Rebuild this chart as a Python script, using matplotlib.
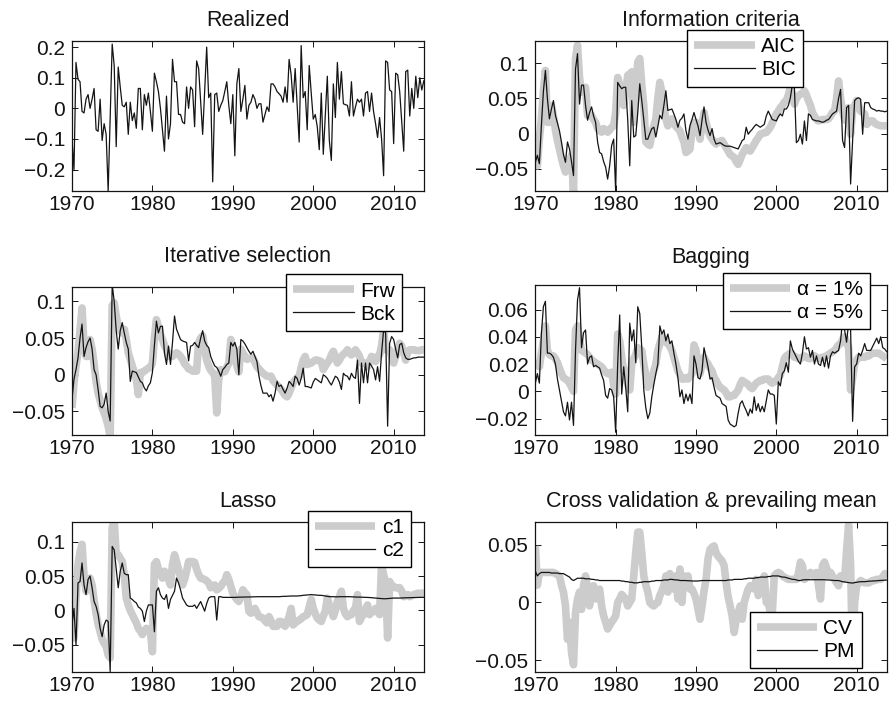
import numpy as np
import matplotlib

matplotlib.use("Agg")
import matplotlib.pyplot as plt

plt.rcParams["font.family"] = ["Liberation Sans", "DejaVu Sans"]

GRAY = "#cccccc"
INK = "#141414"

# quarterly forecasts / realized values, 1970Q1 .. 2013Q4
realized = [
    -0.1, -0.2, 0.15, 0.095, 0.087, -0.01, -0.015, 0.03,
    0.045, 0.0, 0.03, 0.065, -0.07, -0.075, 0.03, -0.105,
    -0.05, -0.085, -0.27, -0.03, 0.21, 0.14, -0.125, 0.135,
    0.07, 0.01, 0.005, 0.02, -0.085, 0.02, -0.04, -0.015,
    -0.065, 0.065, 0.065, -0.07, 0.045, 0.01, 0.05, -0.01,
    -0.075, 0.115, 0.087, 0.055, 0.0, -0.07, -0.14, 0.04,
    -0.1, -0.05, 0.16, 0.087, 0.087, -0.02, -0.02, -0.045,
    -0.05, 0.07, 0.0, 0.07, 0.06, -0.06, 0.155, 0.13,
    0.02, -0.085, 0.06, 0.2, 0.035, 0.05, -0.24, 0.045,
    0.05, -0.01, 0.01, 0.025, 0.055, 0.087, 0.01, -0.05,
    0.045, -0.155, 0.08, 0.13, -0.01, 0.03, 0.075, -0.035,
    0.01, 0.02, 0.045, 0.03, 0.0, 0.015, 0.015, -0.045,
    -0.02, 0.005, -0.01, 0.08, 0.08, 0.07, 0.055, 0.048,
    0.04, 0.02, 0.07, 0.02, 0.16, 0.11, 0.02, 0.13,
    0.01, -0.11, 0.205, 0.035, 0.055, -0.07, 0.14, 0.05,
    -0.035, -0.02, -0.06, -0.135, 0.05, -0.15, -0.02, 0.105,
    -0.105, -0.17, 0.08, -0.03, 0.15, 0.03, 0.12, 0.015,
    0.012, 0.01, -0.025, 0.087, -0.025, 0.005, 0.03, 0.02,
    0.03, -0.025, 0.05, 0.055, -0.01, 0.05, -0.01, -0.05,
    -0.095, -0.03, -0.1, -0.22, 0.155, 0.15, 0.06, 0.055,
    -0.115, 0.115, 0.11, 0.055, -0.04, -0.14, 0.12, 0.125,
    -0.025, 0.065, 0.0, 0.105, 0.035, 0.1, 0.06, 0.09,
]

aic = [
    -0.027, -0.046, -0.008, 0.021, 0.06, 0.09, 0.016, 0.016,
    0.04, 0.025, 0.005, -0.01, -0.022, -0.035, -0.046, -0.055,
    -0.05, -0.04, -0.031, -0.084, 0.107, 0.126, 0.08, 0.059,
    0.062, 0.066, 0.026, 0.026, 0.026, 0.02, 0.016, 0.007,
    0.004, 0.002, 0.007, 0.005, 0.002, 0.005, 0.009, 0.011,
    0.03, 0.08, 0.07, 0.055, 0.04, 0.06, 0.083, 0.085,
    0.088, 0.016, 0.06, 0.102, 0.107, 0.07, 0.04, -0.012,
    -0.015, -0.017, 0.0, 0.011, 0.021, 0.05, 0.073, 0.059,
    0.04, 0.021, 0.011, 0.015, 0.021, 0.015, 0.01, 0.007,
    0.004, -0.005, -0.012, -0.027, -0.025, -0.022, 0.005, 0.016,
    0.016, 0.005, -0.008, 0.012, 0.03, 0.016, 0.005, -0.003,
    -0.008, -0.012, -0.015, -0.012, -0.011, -0.01, -0.015, -0.02,
    -0.025, -0.03, -0.032, -0.034, -0.04, -0.044, -0.037, -0.03,
    -0.025, -0.02, -0.023, -0.025, -0.02, -0.015, -0.01, -0.006,
    -0.001, 0.0, 0.001, 0.0015, 0.005, 0.009, 0.015, 0.022,
    0.028, 0.032, 0.037, 0.04, 0.045, 0.047, 0.055, 0.066,
    0.055, 0.042, 0.05, 0.054, 0.056, 0.058, 0.061, 0.055,
    0.047, 0.04, 0.03, 0.025, 0.02, 0.018, 0.019, 0.02,
    0.02, 0.02, 0.021, 0.025, 0.03, 0.032, 0.05, 0.075,
    0.05, 0.032, 0.02, 0.018, 0.037, -0.001, 0.032, 0.04,
    0.047, 0.04, 0.032, 0.03, 0.028, 0.013, 0.016, 0.018,
    0.018, 0.015, 0.013, 0.012, 0.011, 0.011, 0.011, 0.011,
]

bic = [
    -0.041, -0.031, -0.043, 0.011, 0.06, 0.09, 0.05, 0.021,
    0.035, 0.047, 0.026, 0.015, 0.004, -0.012, -0.03, -0.041,
    -0.012, -0.022, -0.04, -0.06, 0.092, 0.114, 0.042, 0.069,
    0.069, 0.04, 0.019, 0.03, 0.038, 0.025, 0.016, -0.012,
    -0.027, -0.029, -0.04, -0.048, -0.065, -0.046, -0.017, -0.008,
    -0.083, 0.073, 0.068, 0.064, 0.066, 0.066, 0.02, -0.046,
    0.047, -0.005, -0.003, 0.03, 0.071, 0.047, 0.02, -0.008,
    -0.008, 0.0, 0.007, 0.009, -0.005, 0.01, 0.026, 0.021,
    0.04, 0.061, 0.033, 0.034, 0.035, 0.028, 0.02, 0.009,
    0.019, 0.022, 0.028, 0.004, -0.008, 0.011, 0.02, 0.03,
    0.02, 0.011, -0.003, 0.019, 0.038, 0.016, 0.005, -0.003,
    0.007, -0.008, -0.015, -0.014, -0.013, -0.015, -0.017, -0.018,
    -0.018, -0.018, -0.019, -0.02, -0.021, -0.022, -0.016, -0.01,
    -0.008, 0.009, -0.001, 0.003, 0.006, 0.01, 0.013, 0.011,
    0.009, 0.011, 0.013, 0.025, 0.032, 0.026, 0.02, 0.019,
    0.018, 0.024, 0.028, 0.025, 0.035, 0.035, 0.04, 0.051,
    0.07, 0.066, -0.013, -0.01, -0.001, -0.015, 0.018, -0.01,
    0.028, 0.026, 0.02, 0.019, 0.018, 0.018, 0.017, 0.016,
    0.017, 0.019, 0.02, 0.024, 0.028, 0.03, 0.032, 0.05,
    0.063, -0.01, -0.02, 0.037, 0.04, -0.072, -0.01, 0.047,
    0.05, 0.051, 0.049, -0.001, 0.044, 0.044, 0.044, 0.037,
    0.035, 0.034, 0.032, 0.033, 0.032, 0.032, 0.031, 0.032,
]

frw = [
    -0.045, -0.011, 0.012, 0.03, 0.06, 0.091, 0.04, 0.025,
    0.025, 0.048, 0.035, 0.015, -0.01, -0.025, -0.035, -0.045,
    -0.052, -0.06, -0.07, -0.084, 0.094, 0.098, 0.08, 0.066,
    0.06, 0.057, 0.062, 0.048, 0.03, 0.021, 0.012, 0.003,
    -0.006, -0.027, 0.003, 0.003, 0.005, 0.007, 0.009, 0.01,
    0.016, 0.05, 0.075, 0.066, 0.055, 0.048, 0.04, 0.035,
    0.025, 0.025, 0.025, 0.028, 0.03, 0.028, 0.025, 0.021,
    0.015, 0.012, 0.008, 0.007, 0.005, 0.005, 0.005, 0.044,
    0.05, 0.053, 0.035, 0.02, 0.012, 0.006, 0.003, -0.002,
    -0.052, -0.006, 0.007, 0.005, 0.004, 0.01, 0.016, 0.048,
    0.035, 0.03, 0.012, 0.004, 0.035, 0.03, 0.025, 0.021,
    0.022, 0.023, 0.023, 0.017, 0.011, 0.008, 0.005, 0.002,
    0.0, -0.002, -0.002, -0.002, -0.008, -0.011, -0.014, -0.017,
    -0.02, -0.024, -0.028, -0.03, -0.025, -0.018, -0.011, -0.007,
    -0.004, -0.002, 0.01, 0.02, 0.025, 0.014, 0.015, 0.016,
    0.018, 0.02, 0.02, 0.019, 0.018, 0.007, 0.012, 0.016,
    0.02, 0.027, 0.032, 0.025, 0.016, 0.02, 0.025, 0.028,
    0.03, 0.034, 0.03, 0.027, 0.03, 0.034, 0.03, 0.025,
    0.016, 0.016, 0.016, 0.011, 0.018, 0.025, 0.02, 0.018,
    0.025, 0.027, 0.04, 0.061, 0.034, 0.034, 0.034, 0.025,
    0.016, 0.025, 0.034, 0.043, 0.039, 0.03, 0.02, 0.032,
    0.034, 0.034, 0.034, 0.033, 0.033, 0.033, 0.034, 0.034,
]

bck = [
    -0.034, -0.006, 0.007, 0.023, 0.05, 0.069, 0.025, 0.037,
    0.045, 0.05, 0.035, 0.007, 0.0, -0.02, -0.043, -0.045,
    -0.04, -0.025, -0.05, -0.063, 0.123, 0.1, 0.06, 0.035,
    0.06, 0.071, 0.057, 0.044, 0.035, -0.009, 0.005, 0.004,
    0.003, -0.003, -0.009, -0.011, -0.018, -0.022, -0.015, -0.011,
    0.003, 0.04, 0.073, 0.057, 0.066, 0.066, 0.03, 0.014,
    0.039, 0.014, 0.044, 0.08, 0.062, 0.055, 0.048, 0.046,
    0.045, 0.044, 0.019, 0.039, 0.04, 0.044, 0.04, 0.037,
    0.05, 0.06, 0.046, 0.04, 0.037, 0.025, 0.018, 0.012,
    0.01, 0.005, -0.002, 0.007, 0.01, 0.014, 0.016, 0.044,
    0.039, 0.044, 0.035, 0.0, 0.048, 0.046, 0.042, 0.037,
    0.032, 0.028, 0.032, 0.025, 0.018, -0.002, -0.015, -0.025,
    -0.025, -0.025, -0.03, -0.027, -0.036, -0.025, -0.009, -0.016,
    -0.014, -0.02, -0.025, -0.018, -0.009, -0.012, -0.016, -0.002,
    -0.005, -0.014, -0.005, 0.009, -0.016, -0.016, -0.017, -0.018,
    -0.01, -0.005, -0.007, -0.009, -0.011, 0.0, -0.002, -0.005,
    -0.01, -0.014, -0.008, -0.002, -0.004, -0.01, -0.02, 0.002,
    -0.001, -0.002, -0.007, 0.002, -0.003, -0.005, 0.02, -0.039,
    0.016, -0.011, 0.016, -0.011, 0.016, 0.012, 0.007, -0.007,
    0.011, -0.009, 0.03, 0.061, 0.057, -0.07, 0.043, 0.052,
    0.048, 0.035, 0.023, 0.041, 0.043, 0.03, 0.023, 0.021,
    0.021, 0.022, 0.023, 0.023, 0.024, 0.024, 0.024, 0.024,
]

alpha1 = [
    0.02, 0.02, 0.018, 0.028, 0.037, 0.048, 0.03, 0.027,
    0.026, 0.026, 0.024, 0.021, 0.017, 0.013, 0.01, 0.009,
    0.008, 0.006, 0.003, 0.0, 0.045, 0.048, 0.038, 0.03,
    0.029, 0.028, 0.027, 0.025, 0.023, 0.022, 0.021, 0.02,
    0.019, 0.018, 0.016, 0.014, 0.013, 0.013, 0.014, 0.005,
    -0.002, 0.042, 0.037, 0.025, 0.015, 0.015, 0.005, 0.001,
    0.02, 0.024, 0.027, 0.032, 0.031, 0.03, 0.02, 0.012,
    0.003, 0.005, 0.01, 0.015, 0.02, 0.03, 0.035, 0.04,
    0.038, 0.036, 0.035, 0.033, 0.03, 0.025, 0.02, 0.015,
    0.012, 0.009, 0.009, 0.01, 0.009, 0.011, 0.013, 0.034,
    0.03, 0.02, 0.013, 0.02, 0.025, 0.022, 0.02, 0.017,
    0.015, 0.01, 0.008, 0.005, 0.003, 0.002, 0.001, -0.001,
    -0.004, -0.004, -0.003, -0.003, -0.001, 0.001, 0.005, 0.008,
    0.007, 0.006, 0.005, 0.003, 0.002, 0.004, 0.006, 0.007,
    0.008, 0.008, 0.009, 0.009, 0.009, 0.007, 0.006, 0.007,
    0.008, 0.01, 0.012, 0.018, 0.024, 0.026, 0.027, 0.028,
    0.027, 0.025, 0.025, 0.024, 0.024, 0.025, 0.026, 0.025,
    0.024, 0.024, 0.025, 0.026, 0.025, 0.024, 0.024, 0.025,
    0.025, 0.026, 0.027, 0.028, 0.029, 0.03, 0.032, 0.034,
    0.035, 0.038, 0.04, 0.036, 0.032, 0.001, 0.01, 0.02,
    0.023, 0.025, 0.025, 0.025, 0.025, 0.026, 0.026, 0.027,
    0.028, 0.028, 0.028, 0.028, 0.027, 0.026, 0.025, 0.024,
]

alpha5 = [
    0.006, 0.013, 0.006, 0.042, 0.062, 0.066, 0.028, 0.028,
    0.027, 0.025, 0.02, 0.009, 0.001, -0.007, -0.015, -0.018,
    -0.008, -0.021, -0.008, -0.025, 0.03, 0.067, 0.076, 0.032,
    0.043, 0.045, 0.02, 0.025, 0.026, 0.018, 0.019, 0.018,
    0.017, 0.012, 0.008, -0.003, -0.005, 0.002, 0.001, -0.004,
    -0.03, 0.02, 0.056, -0.002, 0.018, 0.003, -0.015, 0.05,
    0.037, 0.045, 0.021, 0.062, 0.057, 0.032, 0.001, -0.012,
    -0.02, -0.016, -0.004, 0.005, 0.013, 0.02, 0.048, 0.042,
    0.045, 0.037, 0.042, 0.035, 0.037, 0.028, 0.02, 0.01,
    -0.004, 0.001, -0.009, -0.002, -0.007, -0.002, -0.009, 0.026,
    0.02, 0.01, 0.009, 0.015, 0.032, 0.025, 0.018, 0.009,
    0.01, 0.003, -0.003, -0.004, -0.005, -0.009, -0.01, -0.011,
    -0.021, -0.024, -0.025, -0.026, -0.025, -0.016, -0.009, -0.007,
    -0.011, -0.014, -0.018, -0.013, -0.016, -0.004, -0.014, -0.009,
    -0.015, -0.011, -0.015, -0.007, 0.001, -0.002, -0.002, -0.003,
    -0.024, 0.007, 0.004, 0.013, 0.015, 0.021, 0.014, 0.037,
    0.031, 0.028, 0.025, 0.022, 0.02, 0.028, 0.04, 0.031,
    0.032, 0.025, 0.03, 0.02, 0.026, 0.02, 0.019, 0.025,
    0.018, 0.026, 0.017, 0.026, 0.029, 0.028, 0.029, 0.03,
    0.037, 0.052, 0.045, 0.036, 0.05, 0.045, -0.022, 0.018,
    0.02, 0.028, 0.026, 0.03, 0.035, 0.03, 0.03, 0.03,
    0.033, 0.036, 0.039, 0.035, 0.04, 0.032, 0.031, 0.029,
]

c1 = [
    -0.021, -0.04, 0.018, 0.066, 0.085, 0.096, 0.05, 0.028,
    0.04, 0.047, 0.037, 0.015, -0.005, -0.02, -0.031, -0.042,
    -0.048, -0.052, -0.065, -0.069, 0.12, 0.13, 0.081, 0.081,
    0.076, 0.071, 0.052, 0.018, 0.008, 0.0, -0.006, -0.012,
    -0.018, -0.026, -0.03, -0.035, -0.03, -0.026, -0.028, -0.031,
    -0.06, 0.067, 0.071, 0.06, 0.052, 0.047, 0.057, 0.052,
    0.045, 0.037, 0.067, 0.081, 0.071, 0.06, 0.047, 0.037,
    0.045, 0.057, 0.071, 0.071, 0.071, 0.07, 0.06, 0.052,
    0.047, 0.046, 0.045, 0.043, 0.04, 0.033, 0.035, 0.037,
    0.03, 0.032, 0.035, 0.04, 0.042, 0.052, 0.045, 0.035,
    0.025, 0.02, 0.016, 0.013, 0.02, 0.03, 0.026, 0.023,
    -0.001, -0.004, -0.002, 0.003, -0.003, -0.009, -0.01, -0.011,
    -0.015, -0.018, -0.009, -0.015, -0.023, -0.023, -0.023, -0.016,
    -0.016, -0.02, -0.023, -0.016, -0.009, 0.003, -0.021, -0.018,
    -0.016, -0.014, -0.012, -0.009, -0.008, -0.006, 0.005, 0.016,
    0.003, -0.005, -0.011, -0.014, -0.016, -0.008, -0.001, 0.018,
    0.008, 0.0, -0.009, 0.0, 0.013, 0.02, 0.028, 0.003,
    -0.005, -0.009, -0.007, -0.006, 0.0, 0.003, 0.023, -0.016,
    -0.01, -0.006, 0.002, 0.008, -0.006, -0.003, -0.001, 0.003,
    -0.002, -0.006, 0.067, 0.052, 0.04, -0.04, 0.042, 0.037,
    0.035, 0.033, 0.033, 0.033, 0.028, 0.02, 0.022, 0.023,
    0.02, 0.022, 0.023, 0.024, 0.025, 0.025, 0.025, 0.025,
]

c2 = [
    -0.021, 0.003, -0.05, 0.04, 0.042, 0.069, 0.037, 0.023,
    0.045, 0.05, 0.033, 0.013, 0.006, -0.006, -0.026, -0.038,
    -0.021, -0.014, -0.016, -0.089, 0.093, 0.088, 0.06, 0.033,
    0.057, 0.069, 0.054, 0.052, 0.052, 0.018, 0.016, 0.013,
    0.011, 0.005, 0.003, -0.001, -0.016, -0.001, 0.008, 0.008,
    0.008, -0.031, 0.028, 0.033, 0.023, 0.018, 0.016, 0.023,
    0.003, 0.016, 0.022, 0.028, 0.047, 0.04, 0.03, 0.018,
    0.013, 0.008, 0.006, 0.006, 0.006, 0.008, 0.003, 0.008,
    0.013, 0.006, -0.001, 0.01, 0.018, 0.02, 0.02, 0.02,
    -0.014, 0.02, 0.02, 0.019, 0.019, 0.019, 0.019, 0.019,
    0.019, 0.019, 0.0192, 0.0193, 0.0194, 0.0195, 0.0195, 0.0195,
    0.0196, 0.0197, 0.0198, 0.02, 0.02, 0.02, 0.02, 0.02,
    0.02, 0.02, 0.02, 0.02, 0.02, 0.02, 0.02, 0.02,
    0.0203, 0.0205, 0.0205, 0.0207, 0.021, 0.021, 0.021, 0.021,
    0.021, 0.0212, 0.0215, 0.022, 0.0222, 0.0225, 0.0228, 0.023,
    0.0228, 0.0225, 0.0222, 0.022, 0.022, 0.0215, 0.021, 0.0205,
    0.02, 0.02, 0.02, 0.0198, 0.0198, 0.02, 0.02, 0.02,
    0.02, 0.02, 0.02, 0.0198, 0.0196, 0.0195, 0.0195, 0.0194,
    0.0193, 0.0192, 0.019, 0.019, 0.0188, 0.0185, 0.0182, 0.018,
    0.0178, 0.0175, 0.0172, 0.017, 0.017, 0.0172, 0.0175, 0.0178,
    0.018, 0.018, 0.018, 0.018, 0.0182, 0.0183, 0.0184, 0.0185,
    0.0186, 0.0187, 0.0188, 0.0188, 0.0189, 0.019, 0.019, 0.019,
]

cv = [
    0.049, 0.015, 0.026, 0.026, 0.026, 0.026, 0.026, 0.026,
    0.026, 0.026, 0.025, 0.024, 0.023, 0.015, 0.009, -0.003,
    -0.032, -0.017, -0.043, -0.054, -0.009, 0.003, 0.009, -0.006,
    0.0145, 0.023, 0.013, -0.003, 0.0116, 0.0145, 0.003, 0.008,
    0.0116, -0.003, -0.0116, -0.017, -0.023, -0.02, -0.017, -0.0145,
    -0.0116, 0.0, 0.003, 0.007, 0.005, 0.003, -0.003, 0.0,
    0.003, 0.023, 0.043, 0.061, 0.061, 0.043, 0.023, 0.015,
    0.009, 0.0, -0.002, -0.003, -0.001, 0.0, 0.006, 0.01,
    0.0145, 0.023, 0.009, 0.025, 0.018, 0.0116, 0.023, 0.003,
    0.029, 0.0, 0.023, 0.0145, 0.023, 0.0116, 0.0116, 0.008,
    0.003, -0.006, -0.0145, -0.003, 0.01, 0.02, 0.038, 0.046,
    0.048, 0.049, 0.043, 0.04, 0.038, 0.036, 0.032, 0.017,
    0.005, -0.003, -0.0116, -0.026, -0.015, -0.009, -0.003, -0.0145,
    0.0, 0.006, 0.0116, 0.0145, 0.013, 0.0116, 0.02, 0.006,
    0.01, 0.015, 0.023, 0.0, 0.0, -0.009, -0.009, 0.023,
    0.025, 0.026, 0.025, 0.023, 0.022, 0.021, 0.02, 0.02,
    0.02, 0.02, 0.02, 0.025, 0.035, 0.032, 0.02, 0.022,
    0.024, 0.026, 0.024, 0.023, 0.026, 0.015, 0.003, 0.032,
    0.035, 0.03, 0.023, 0.026, 0.023, 0.02, 0.017, 0.0145,
    0.023, 0.021, 0.02, 0.045, 0.067, 0.032, -0.055, 0.0,
    0.0145, 0.017, 0.019, 0.018, 0.017, 0.017, 0.017, 0.018,
    0.019, 0.019, 0.02, 0.02, 0.02, 0.022, 0.025, 0.023,
]

pm = [
    0.027, 0.023, 0.025, 0.026, 0.026, 0.026, 0.026, 0.026,
    0.0255, 0.0255, 0.0255, 0.0255, 0.025, 0.025, 0.025, 0.024,
    0.023, 0.022, 0.02, 0.019, 0.02, 0.021, 0.021, 0.021,
    0.021, 0.0205, 0.0205, 0.0205, 0.02, 0.02, 0.0195, 0.0195,
    0.019, 0.019, 0.019, 0.019, 0.019, 0.019, 0.019, 0.019,
    0.019, 0.019, 0.019, 0.0185, 0.0185, 0.018, 0.018, 0.0175,
    0.0175, 0.017, 0.017, 0.017, 0.0175, 0.0175, 0.018, 0.018,
    0.018, 0.018, 0.0185, 0.0185, 0.019, 0.019, 0.019, 0.019,
    0.0195, 0.0195, 0.0195, 0.02, 0.02, 0.0197, 0.0195, 0.0195,
    0.019, 0.019, 0.019, 0.019, 0.0188, 0.0188, 0.0186, 0.0186,
    0.0186, 0.0186, 0.0188, 0.019, 0.019, 0.019, 0.019, 0.019,
    0.019, 0.019, 0.019, 0.019, 0.019, 0.019, 0.019, 0.019,
    0.0195, 0.0195, 0.0195, 0.02, 0.02, 0.02, 0.02, 0.02,
    0.0205, 0.0205, 0.021, 0.021, 0.021, 0.021, 0.0215, 0.0215,
    0.022, 0.022, 0.022, 0.022, 0.0225, 0.0225, 0.023, 0.023,
    0.023, 0.023, 0.0225, 0.022, 0.022, 0.0215, 0.021, 0.0205,
    0.02, 0.02, 0.0195, 0.019, 0.019, 0.0195, 0.0197, 0.0197,
    0.0197, 0.0197, 0.0197, 0.0197, 0.0197, 0.0197, 0.0197, 0.0197,
    0.0197, 0.0195, 0.0195, 0.0193, 0.0192, 0.019, 0.019, 0.019,
    0.0185, 0.018, 0.0178, 0.0175, 0.0172, 0.017, 0.0168, 0.0172,
    0.0175, 0.0178, 0.018, 0.018, 0.018, 0.0182, 0.0184, 0.0185,
    0.0186, 0.0187, 0.0188, 0.019, 0.0191, 0.0192, 0.0193, 0.0194,
]

year_ticks = [1970, 1980, 1990, 2000, 2010]

fig = plt.figure(figsize=(8.93, 7.01), dpi=100)
fig.patch.set_facecolor("white")


def quarters(v):
    return 1970 + np.arange(len(v)) / 4


def panel(rect, title, ylim, yticks, tpad):
    ax = fig.add_axes(rect)
    ax.set_xlim(1970, 2013.75)
    ax.set_ylim(*ylim)
    ax.set_xticks(year_ticks)
    ax.set_yticks(yticks)
    ax.set_yticklabels([f"{t:g}".replace("-", "\u2212") for t in yticks])
    ax.tick_params(direction="in", top=True, right=True, length=4,
                   width=0.7, labelsize=15, colors=INK)
    ax.tick_params(axis="x", pad=3)
    ax.tick_params(axis="y", pad=5)
    for s in ax.spines.values():
        s.set_linewidth(0.9)
        s.set_color(INK)
    ax.set_title(title, fontsize=15.5, pad=tpad, color=INK)
    return ax


def pair(ax, gray, black, labels, anchor, loc="upper right"):
    ax.plot(quarters(gray), gray, color=GRAY, lw=5.5, solid_joinstyle="round",
            solid_capstyle="butt", label=labels[0], zorder=2)
    ax.plot(quarters(black), black, color=INK, lw=0.9, label=labels[1], zorder=3)
    leg = ax.legend(loc=loc, bbox_to_anchor=anchor, bbox_transform=fig.transFigure,
                    fontsize=15, fancybox=False, edgecolor="black", framealpha=1,
                    borderpad=0.35, labelspacing=0.2, handlelength=2.9,
                    handletextpad=0.3, borderaxespad=0)
    leg.get_frame().set_linewidth(1.0)
    leg.set_zorder(5)


L, R = 0.0806, 0.5995
WL, WR = 0.394, 0.3935

ax1 = panel([L, 0.7275, WL, 0.214], "Realized", (-0.27, 0.22),
            [-0.2, -0.1, 0, 0.1, 0.2], 10.5)
ax1.plot(quarters(realized), realized, color=INK, lw=0.9)

ax2 = panel([R, 0.7275, WR, 0.214], "Information criteria", (-0.082, 0.132),
            [-0.05, 0, 0.05, 0.1], 10.5)
pair(ax2, aic, bic, ["AIC", "BIC"], (0.8992, 0.9572))

ax3 = panel([L, 0.3795, WL, 0.2116], "Iterative selection", (-0.082, 0.12),
            [-0.05, 0, 0.05, 0.1], 17.5)
pair(ax3, frw, bck, ["Frw", "Bck"], (0.4502, 0.6087))

ax4 = panel([R, 0.3795, WR, 0.214], "Bagging", (-0.032, 0.078),
            [-0.02, 0, 0.02, 0.04, 0.06], 15.6)
pair(ax4, alpha1, alpha5, ["\u03b1 = 1%", "\u03b1 = 5%"], (0.9742, 0.611))

ax5 = panel([L, 0.0418, WL, 0.214], "Lasso", (-0.089, 0.129),
            [-0.05, 0, 0.05, 0.1], 10.8)
pair(ax5, c1, c2, ["c1", "c2"], (0.4602, 0.2715))

ax6 = panel([R, 0.0418, WR, 0.214], "Cross validation & prevailing mean",
            (-0.06, 0.07), [-0.05, 0, 0.05], 10.8)
pair(ax6, cv, pm, ["CV", "PM"], (0.9656, 0.0466), loc="lower right")

fig.savefig("out.png", dpi=100, facecolor="white")
